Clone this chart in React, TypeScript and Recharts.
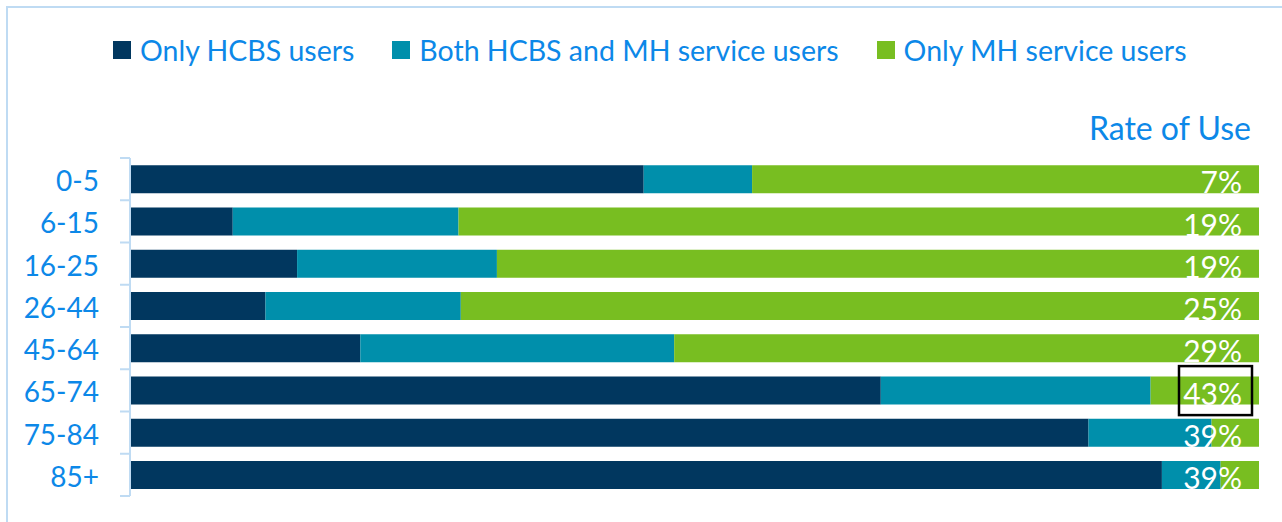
import { BarChart, Bar, XAxis, YAxis, LabelList } from 'recharts';

const ageGroups = ['0-5', '6-15', '16-25', '26-44', '45-64', '65-74', '75-84', '85+'];
const onlyHcbs = [45.5, 9.1, 14.8, 12.0, 20.4, 66.5, 84.9, 91.4];
const bothHcbsMh = [9.6, 20.0, 17.7, 17.3, 27.8, 23.9, 10.9, 5.2];
const onlyMh = [44.9, 70.9, 67.5, 70.7, 51.8, 9.6, 4.2, 3.4];
const rateOfUse = ['7%', '19%', '19%', '25%', '29%', '43%', '39%', '39%'];
const highlightedAge = '65-74';

const series = [
  { key: 'onlyHcbs', name: 'Only HCBS users', color: '#01375F' },
  { key: 'both', name: 'Both HCBS and MH service users', color: '#008FAB' },
  { key: 'onlyMh', name: 'Only MH service users', color: '#78BE21' },
];

const data = ageGroups.map((age, i) => ({
  age,
  onlyHcbs: onlyHcbs[i],
  both: bothHcbsMh[i],
  onlyMh: onlyMh[i],
  rate: rateOfUse[i],
}));

const W = 1282;
const H = 522;
const margin = { top: 158, right: 23, bottom: 26, left: 0 };
const bandSize = (H - margin.top - margin.bottom) / ageGroups.length;
const textBlue = '#0C88E8';
const axisBlue = '#BFDBF3';
const font = 'Lato, "Noto Sans", sans-serif';

const AgeTick = ({ x, y, payload, index }: any) => (
  <g>
    <text x={x - 31} y={y + 1} textAnchor="end" dominantBaseline="central" fill={textBlue} fontSize={28} fontFamily={font}>
      {payload.value}
    </text>
    <line x1={x - 10} x2={x} y1={y - bandSize / 2} y2={y - bandSize / 2} stroke={axisBlue} strokeWidth={2} />
    {index === ageGroups.length - 1 && (
      <line x1={x - 10} x2={x} y1={y + bandSize / 2} y2={y + bandSize / 2} stroke={axisBlue} strokeWidth={2} />
    )}
  </g>
);

const RateLabel = (props: any) => {
  const { x, y, width, height, index } = props;
  const right = x + width;
  const cy = y + height / 2;
  return (
    <g>
      <text x={right - 17} y={cy + 2} textAnchor="end" dominantBaseline="central" fill="#ffffff" fontSize={30} fontFamily={font}>
        {rateOfUse[index]}
      </text>
      {ageGroups[index] === highlightedAge && (
        <rect x={right - 80} y={cy - 24.5} width={73} height={49} fill="none" stroke="#000000" strokeWidth={2.5} />
      )}
    </g>
  );
};

export default function App() {
  return (
    <div style={{ position: 'absolute', left: 0, top: 0, width: W, height: H, overflow: 'hidden', background: '#fff', fontFamily: font }}>
      <div style={{ position: 'absolute', left: 6, top: 6, width: W, height: H, borderTop: `2px solid ${axisBlue}`, borderLeft: `2px solid ${axisBlue}` }} />

      {/* Legend */}
      <div style={{ position: 'absolute', left: 113, top: 31, display: 'flex', alignItems: 'center', gap: 38 }}>
        {series.map((s) => (
          <div key={s.key} style={{ display: 'flex', alignItems: 'center', gap: 9 }}>
            <div style={{ width: 18, height: 18, background: s.color }} />
            <span style={{ color: textBlue, fontSize: 28.5, lineHeight: '38px', whiteSpace: 'nowrap' }}>{s.name}</span>
          </div>
        ))}
      </div>

      <div style={{ position: 'absolute', right: W - 1251, top: 108, color: textBlue, fontSize: 32, lineHeight: '40px' }}>
        Rate of Use
      </div>

      <div style={{ position: 'absolute', left: 0, top: 0 }}>
        <BarChart width={W} height={H} data={data} layout="vertical" margin={margin} barCategoryGap="17.4%">
          <XAxis type="number" domain={[0, 100]} hide />
          <YAxis
            type="category"
            dataKey="age"
            width={130}
            axisLine={{ stroke: axisBlue, strokeWidth: 2 }}
            tickLine={false}
            tickSize={0}
            tickMargin={0}
            tick={<AgeTick />}
            interval={0}
          />
          {series.map((s) => (
            <Bar key={s.key} dataKey={s.key} name={s.name} stackId="a" fill={s.color} isAnimationActive={false}>
              {s.key === 'onlyMh' && <LabelList dataKey="rate" content={<RateLabel />} />}
            </Bar>
          ))}
        </BarChart>
      </div>
    </div>
  );
}
